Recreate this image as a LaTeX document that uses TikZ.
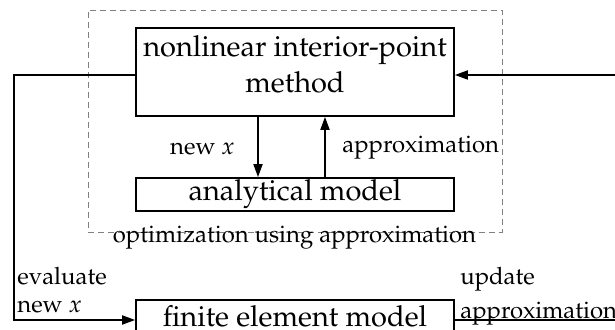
\documentclass[tikz,border=0pt]{standalone}
\usepackage[T1]{fontenc}
\usepackage{mathpazo}
\usetikzlibrary{arrows.meta}

\begin{document}
\begin{tikzpicture}[x=0.02cm, y=-0.02cm,
		block/.style={rectangle, draw, line width=1pt, inner sep=0pt, align=center, font=\fontsize{16.5}{20.5}\selectfont},
		lbl/.style={inner sep=0pt, font=\fontsize{13.6}{17}\selectfont},
		flow/.style={line width=1pt, -{Triangle[length=2.6mm, width=1.8mm]}}]
		
		\useasboundingbox (0,0) rectangle (615,330);
		
		% Frames
		
		\node[rectangle, draw=gray, dashed, line width=0.5pt, dash pattern=on 3.4pt off 2.3pt, minimum width=8.28cm, minimum height=4.44cm] 
		(optFrame) at (295,121) {};
		
		\node[block, minimum width=6.36cm, minimum height=1.76cm, text height=22.8pt, text depth=0pt] 
		(nip) at (295,72) {nonlinear interior-point\\method};
		
		\node[block, minimum width=6.36cm, minimum height=0.66cm] 
		(analytic) at (295,194.5) {analytical model};
		
		\node[block, minimum width=6.36cm, minimum height=0.66cm] 
		(fem) at (295,316.5) {finite element model};
		
		\coordinate (loopL) at (14,320);
		\coordinate (rightOut) at (615,320);
		\coordinate (rightIn) at (615,75);
		
		% Labels
		
		\node[lbl, anchor=base east] (newxLbl) at (235,155) {new $x$};
		\node[lbl, anchor=base west] (approxLbl) at (342,153) {approximation};
		\node[lbl, anchor=base] (frameLbl) at (294.5,243) {optimization using approximation};
		\node[lbl, anchor=north west, align=left, font=\fontsize{13.6}{16}\selectfont] (evalLbl) at (17,267) {evaluate\\new $x$};
		\node[lbl, anchor=north west, align=left, font=\fontsize{13.6}{19}\selectfont] (updateLbl) at (460,267) {update\\approximation};
		
		% Arrows
		
		\draw[flow] ([xshift=-0.74cm]nip.south) -- ([xshift=-0.74cm]analytic.north);
		
		\draw[flow] ([xshift=0.6cm]analytic.north) -- ([xshift=0.6cm]nip.south);
		
		\draw[flow] ([yshift=-0.06cm]nip.west) -| (loopL) -- ([yshift=-0.07cm]fem.west);
		
		\draw[line width=1pt] ([yshift=-0.07cm]fem.east) -- (rightOut);
		
		\draw[flow] (rightIn) -- ([yshift=-0.06cm]nip.east);
		
	\end{tikzpicture}
\end{document}
